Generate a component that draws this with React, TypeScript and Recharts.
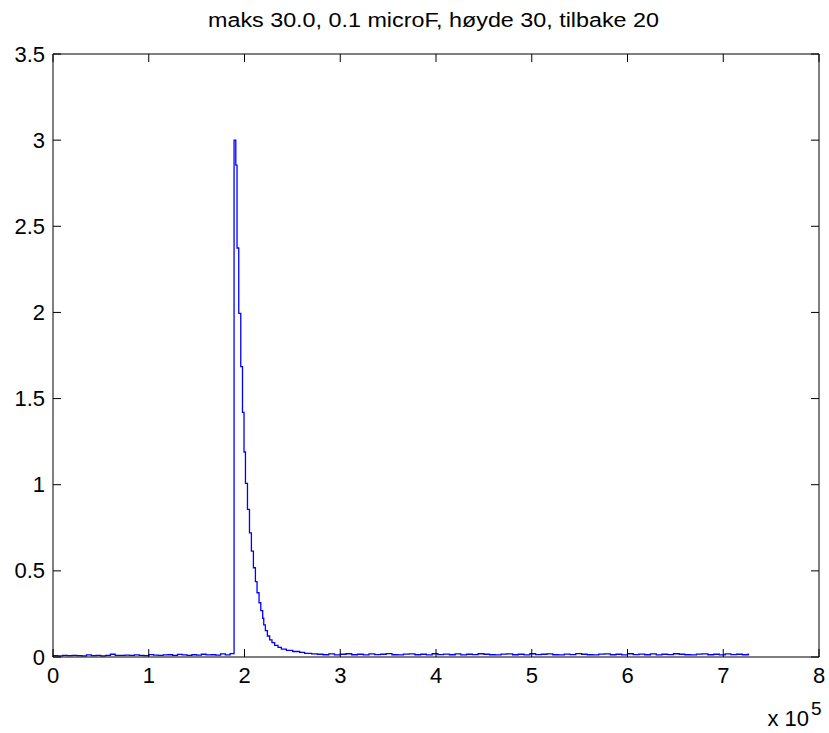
import React from "react";
import { LineChart, Line, XAxis, YAxis } from "recharts";

// ---- data ----
const TITLE = "maks 30.0, 0.1 microF, høyde 30, tilbake 20";
const X_TICKS = [0, 100000, 200000, 300000, 400000, 500000, 600000, 700000, 800000];
const Y_TICKS = [0, 0.5, 1, 1.5, 2, 2.5, 3, 3.5];

// baseline noise before the pulse (sampled every 5000 from 0)
const PRE_START = 0;
const PRE_STEP = 5000;
const preValues = [
  0.008, 0.007, 0.009, 0.008, 0.010, 0.008, 0.007, 0.012, 0.008, 0.009,
  0.007, 0.010, 0.016, 0.009, 0.010, 0.011, 0.009, 0.012, 0.010, 0.008,
  0.014, 0.011, 0.010, 0.012, 0.013, 0.010, 0.015, 0.012, 0.010, 0.013,
  0.011, 0.016, 0.012, 0.013, 0.011, 0.018, 0.012, 0.020,
];

// pulse and decay staircase
const decayX = [
  189100, 190900, 192200, 194000, 196100, 197900, 199500, 201000, 203100,
  205200, 207200, 209300, 211400, 213100, 215200, 217000, 219000, 220100,
  221800, 223900, 226300, 228700, 231500, 235000, 238500, 243700, 250300,
  257600, 262800, 270100,
];
const decayY = [
  3.0, 2.855, 2.374, 1.995, 1.685, 1.42, 1.19, 1.008, 0.857,
  0.72, 0.615, 0.518, 0.437, 0.373, 0.315, 0.269, 0.225, 0.186,
  0.153, 0.122, 0.099, 0.083, 0.068, 0.056, 0.046, 0.038, 0.032,
  0.027, 0.021, 0.018,
];

// baseline noise after the decay (sampled every 6000 from 276000)
const POST_START = 276000;
const POST_STEP = 6000;
const postValues = [
  0.016, 0.013, 0.018, 0.012, 0.016, 0.019, 0.013, 0.016, 0.012, 0.018,
  0.014, 0.016, 0.020, 0.013, 0.012, 0.017, 0.018, 0.013, 0.016, 0.012,
  0.019, 0.014, 0.017, 0.013, 0.018, 0.012, 0.016, 0.014, 0.019, 0.016,
  0.013, 0.012, 0.017, 0.018, 0.013, 0.016, 0.012, 0.019, 0.014, 0.016,
  0.018, 0.013, 0.012, 0.017, 0.014, 0.020, 0.016, 0.013, 0.012, 0.017,
  0.018, 0.013, 0.016, 0.012, 0.019, 0.014, 0.017, 0.013, 0.018, 0.012,
  0.016, 0.014, 0.019, 0.016, 0.013, 0.012, 0.017, 0.018, 0.013, 0.016,
  0.012, 0.018, 0.014, 0.016, 0.013, 0.016,
];
const END_X = 727000;

const data: { x: number; y: number }[] = [];
preValues.forEach((v, i) => data.push({ x: PRE_START + i * PRE_STEP, y: v }));
decayX.forEach((x, i) => data.push({ x, y: decayY[i] }));
postValues.forEach((v, i) => data.push({ x: POST_START + i * POST_STEP, y: v }));
data.push({ x: END_X, y: postValues[postValues.length - 1] });

const FONT = "'Liberation Sans', Arial, Helvetica, sans-serif";
const TICK_LEN = 8;

const fmtX = (v: number) => String(v / 100000);
const fmtY = (v: number) => String(v);

const BottomTick = (p: any) => (
  <g>
    <line x1={p.x} y1={p.y} x2={p.x} y2={p.y - TICK_LEN} stroke="#000" />
    <text x={p.x} y={p.y + 26} textAnchor="middle" fontSize={22} fontFamily={FONT} fill="#000">
      {fmtX(p.payload.value)}
    </text>
  </g>
);
const TopTick = (p: any) => (
  <line x1={p.x} y1={p.y} x2={p.x} y2={p.y + TICK_LEN} stroke="#000" />
);
const LeftTick = (p: any) => (
  <g>
    <line x1={p.x} y1={p.y} x2={p.x + TICK_LEN} y2={p.y} stroke="#000" />
    <text x={p.x - 8} y={p.y + 7.5} textAnchor="end" fontSize={22} fontFamily={FONT} fill="#000">
      {fmtY(p.payload.value)}
    </text>
  </g>
);
const RightTick = (p: any) => (
  <line x1={p.x} y1={p.y} x2={p.x - TICK_LEN} y2={p.y} stroke="#000" />
);

export default function App() {
  return (
    <div style={{ position: "absolute", left: 0, top: 0, width: 829, height: 733, background: "#fff" }}>
      <LineChart width={829} height={733} data={data} margin={{ top: 0, right: 0, bottom: 0, left: 0 }}>
        <XAxis
          dataKey="x"
          type="number"
          domain={[0, 800000]}
          ticks={X_TICKS}
          allowDataOverflow
          height={76}
          tickSize={0}
          tickMargin={0}
          tickLine={false}
          axisLine={{ stroke: "#000" }}
          tick={BottomTick}
          interval={0}
        />
        <XAxis
          xAxisId="top"
          orientation="top"
          dataKey="x"
          type="number"
          domain={[0, 800000]}
          ticks={X_TICKS}
          allowDataOverflow
          height={54}
          tickSize={0}
          tickMargin={0}
          tickLine={false}
          axisLine={{ stroke: "#000" }}
          tick={TopTick}
          interval={0}
        />
        <YAxis
          type="number"
          domain={[0, 3.5]}
          ticks={Y_TICKS}
          allowDataOverflow
          width={53}
          tickSize={0}
          tickMargin={0}
          tickLine={false}
          axisLine={{ stroke: "#000" }}
          tick={LeftTick}
          interval={0}
        />
        <YAxis
          yAxisId="right"
          orientation="right"
          type="number"
          domain={[0, 3.5]}
          ticks={Y_TICKS}
          allowDataOverflow
          width={10}
          tickSize={0}
          tickMargin={0}
          tickLine={false}
          axisLine={{ stroke: "#000" }}
          tick={RightTick}
          interval={0}
        />
        <Line
          type="stepAfter"
          dataKey="y"
          stroke="#0000ff"
          strokeWidth={1.3}
          dot={false}
          isAnimationActive={false}
        />
      </LineChart>
      <svg
        width={829}
        height={733}
        style={{ position: "absolute", left: 0, top: 0, pointerEvents: "none" }}
      >
        <text
          x={433.5}
          y={26.5}
          textAnchor="middle"
          fontSize={20}
          fontFamily={FONT}
          fill="#000"
          textLength={451}
          lengthAdjust="spacingAndGlyphs"
        >
          {TITLE}
        </text>
        <text x={809} y={726} textAnchor="end" fontSize={22} fontFamily={FONT} fill="#000">
          x 10
        </text>
        <text x={811} y={715} textAnchor="start" fontSize={19} fontFamily={FONT} fill="#000">
          5
        </text>
      </svg>
    </div>
  );
}
